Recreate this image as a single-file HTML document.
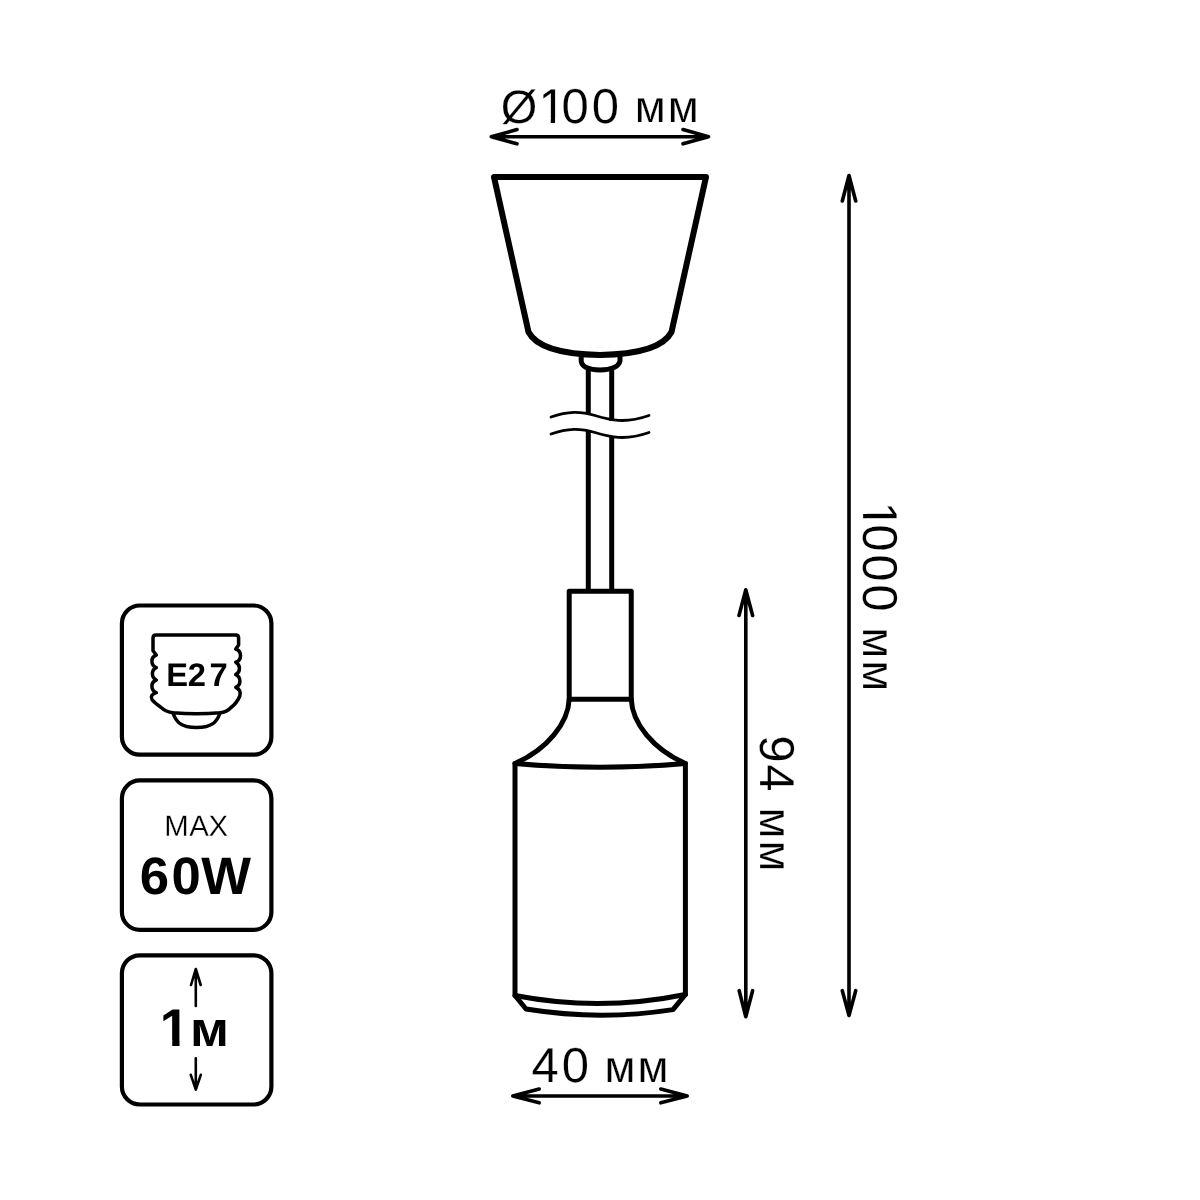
<!DOCTYPE html>
<html><head><meta charset="utf-8">
<style>
html,body{margin:0;padding:0;background:#fff;width:1200px;height:1200px;overflow:hidden}
svg{display:block;will-change:transform}
text{font-family:"Liberation Sans",sans-serif;fill:#000;text-rendering:geometricPrecision}
</style></head>
<body>
<svg width="1200" height="1200" viewBox="0 0 1200 1200">
<defs>
  <clipPath id="c1a" clipPathUnits="userSpaceOnUse">
    <rect x="520" y="60" width="60" height="58"/>
    <rect x="550.74" y="117" width="4.33" height="8"/>
  </clipPath>
  <clipPath id="c1b" clipPathUnits="userSpaceOnUse">
    <rect x="490" y="-60" width="45" height="55.8"/>
    <rect x="513.89" y="-5" width="4.33" height="8"/>
  </clipPath>
  <clipPath id="c1c" clipPathUnits="userSpaceOnUse">
    <rect x="150" y="990" width="45" height="50"/>
    <rect x="172.24" y="1038" width="7.27" height="12"/>
  </clipPath>
</defs>
<rect width="1200" height="1200" fill="#fff"/>
<g fill="none" stroke="#000" stroke-linecap="round" stroke-linejoin="round">
  <!-- canopy -->
  <path stroke-width="6" d="M494,177 L706,177 L671.5,332 Q660,354 600,355 Q540,354 528.5,332 Z"/>
  <!-- collar -->
  <path stroke-width="5" d="M581.2,354 L581.2,361 Q582,369.5 600,370 Q618,369.5 620,361 L620,354"/>
  <!-- cord -->
  <path stroke-width="5" stroke-linecap="butt" d="M588.3,370 V414 M611.7,370 V421 M588.3,430 V591 M611.7,437 V591"/>
  <!-- breaks -->
  <path stroke-width="2.8" d="M551,417 C568,411 580,411 595,415.5 S625,424 649,415.5"/>
  <path stroke-width="2.8" d="M551,434 C568,428 580,428 595,432.5 S625,441 649,432.5"/>
  <!-- socket rect -->
  <path stroke-width="5" d="M569.2,591.25 H631.25 V699.2 H569.2 Z"/>
  <!-- flare -->
  <path stroke-width="5" d="M569.2,699 C568.4,723 547.4,749 515,763.5"/>
  <path stroke-width="5" d="M631.25,699 C632,723 653,749 685.4,763.5"/>
  <!-- body -->
  <path stroke-width="5" d="M515,763.5 Q600,771 685.4,763.5 V994.5 L673,1009.6 Q600,1021 526,1009 L515,995.5 Z"/>
  <path stroke-width="5" d="M515,995.5 Q600,1012 685.4,994.5"/>

  <!-- dimension arrows -->
  <g stroke-width="3.6">
    <path d="M491.3,136.7 H708.5 M517,129.6 L491.3,136.7 L517,143.8 M683,129.6 L708.5,136.7 L683,143.8"/>
    <path d="M849,175.5 V1015.5 M842.3,201 L849,175.5 L855.7,201 M842.3,990.7 L849,1015.5 L855.7,990.7"/>
    <path d="M745.8,589.8 V1016.7 M739,615.5 L745.8,589.8 L752.6,615.5 M739.2,990.7 L745.8,1016.7 L752.6,990.7"/>
    <path d="M512.8,1096 H687.2 M539.2,1089 L512.8,1096 L539.2,1102.8 M660.8,1089 L687.2,1096 L660.8,1102.8"/>
  </g>

  <!-- icon boxes -->
  <g stroke-width="4.2">
    <rect x="121.9" y="605.5" width="149.5" height="149.2" rx="18"/>
    <rect x="121.9" y="780.4" width="149.5" height="149.5" rx="18"/>
    <rect x="121.9" y="955.3" width="149.5" height="149.2" rx="18"/>
  </g>
  <!-- E27 base -->
  <path stroke-width="3.5" d="M156,635 H235.8 Q238.6,635 238.6,637.8 V645 L235.75,649 A7,7 0 0 1 235.75,662.25 A7,7 0 0 1 235.75,674.6 A7,7 0 0 1 235.75,687.4 Q241.5,690 239.8,696 Q237,703 231,707.5 Q227,712 220,712.8 C205,714 188,714 173,712.8 Q166,712 160.5,707 Q154.5,703 152,699.5 Q149.5,695 156.3,692.7 A6.8,6.8 0 0 1 156.3,680 A6.8,6.8 0 0 1 156.3,667.7 A6.8,6.8 0 0 1 156.3,655 L153,650.7 V638 Q153,635 156,635 Z"/>
  <path stroke-width="3.5" d="M173,713 C176,722 181,727.5 196.5,727.5 C212,727.5 217,722 220,713"/>
  <!-- 1m arrows -->
  <g stroke-width="2.6">
    <path d="M195.8,969 V1006 M191,985 L195.8,969 L200.7,985"/>
    <path d="M195.8,1058.2 V1089.6 M190.8,1074.8 L195.8,1089.6 L200.8,1074.8"/>
  </g>
</g>

<!-- dimension texts -->
<text stroke="#fff" stroke-width="0.2" x="500.7" y="122.5" font-size="47">Ø</text>
<text stroke="#fff" stroke-width="0.2" x="538.42" y="122.7" font-size="49" clip-path="url(#c1a)">1</text>
<text stroke="#fff" stroke-width="0.2" x="561.45 591.87" y="122.7" font-size="49">00</text>
<text stroke="#fff" stroke-width="0.2" x="634.77 667.77" y="122.3" font-size="45">мм</text>

<text stroke="#fff" stroke-width="0.2" x="531.53 561.67" y="1082.2" font-size="49">40</text>
<text stroke="#fff" stroke-width="0.2" x="604.52 637.52" y="1082" font-size="45">мм</text>

<g transform="translate(862.8,0) rotate(90)">
  <text stroke="#fff" stroke-width="0.2" x="501.57" y="0" font-size="49" clip-path="url(#c1b)">1</text>
  <text stroke="#fff" stroke-width="0.2" x="524.37 554.37 584.37" y="0" font-size="49">000</text>
  <text stroke="#fff" stroke-width="0.2" x="627.17 660.35" y="0" font-size="45">мм</text>
</g>
<g transform="translate(760,0) rotate(90)">
  <text stroke="#fff" stroke-width="0.2" x="735.24 764.18" y="0" font-size="49">94</text>
  <text stroke="#fff" stroke-width="0.2" x="807.47 840.45" y="0" font-size="45">мм</text>
</g>

<!-- icon texts -->
<text x="166.34 187.84 209.5" y="686" font-size="32.7" font-weight="bold">E27</text>
<text x="164.15 189.25 208.62" y="835.8" font-size="29.4" stroke="#fff" stroke-width="0.3">MAX</text>
<text x="139.83 171.38 201.13" y="893.9" font-size="52.7" font-weight="bold">60W</text>
<text x="159.87" y="1045.75" font-size="53" font-weight="bold" clip-path="url(#c1c)">1</text>
<text x="190" y="1045.75" font-size="49" font-weight="bold" textLength="38.96" lengthAdjust="spacingAndGlyphs">м</text>
</svg>
</body></html>
